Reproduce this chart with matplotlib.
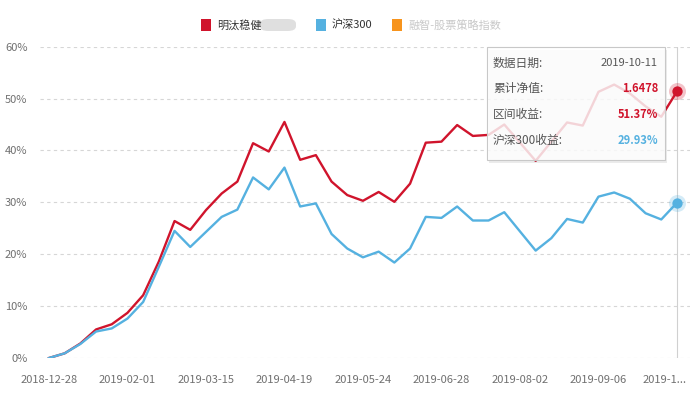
import numpy as np
import matplotlib
matplotlib.use("Agg")
import matplotlib.pyplot as plt
import matplotlib.transforms as mtransforms
from matplotlib.patches import Rectangle, FancyBboxPatch

plt.rcParams['font.family'] = ['Noto Sans CJK SC', 'DejaVu Sans']

# weekly dates (category axis)
dates = ['2018-12-28', '2019-01-04', '2019-01-11', '2019-01-18', '2019-01-25',
         '2019-02-01', '2019-02-15', '2019-02-22', '2019-03-01', '2019-03-08',
         '2019-03-15', '2019-03-22', '2019-03-29', '2019-04-04', '2019-04-12',
         '2019-04-19', '2019-04-26', '2019-04-30', '2019-05-10', '2019-05-17',
         '2019-05-24', '2019-05-31', '2019-06-06', '2019-06-14', '2019-06-21',
         '2019-06-28', '2019-07-05', '2019-07-12', '2019-07-19', '2019-07-26',
         '2019-08-02', '2019-08-09', '2019-08-16', '2019-08-23', '2019-08-30',
         '2019-09-06', '2019-09-12', '2019-09-20', '2019-09-27', '2019-09-30',
         '2019-10-11']

# cumulative return of the fund (%)
fund = [0, 0.9, 2.8, 5.5, 6.5, 8.7, 12.1, 18.6, 26.4, 24.7,
        28.5, 31.7, 34.0, 41.4, 39.8, 45.5, 38.2, 39.1, 34.0, 31.4,
        30.3, 32.0, 30.1, 33.6, 41.5, 41.7, 44.9, 42.8, 43.0, 45.0,
        41.5, 38.0, 41.7, 45.4, 44.8, 51.3, 52.7, 51.0, 48.5, 46.5,
        51.37]

# CSI 300 cumulative return (%)
hs300 = [0, 0.9, 2.7, 5.1, 5.7, 7.6, 10.8, 17.6, 24.5, 21.4,
         24.3, 27.2, 28.6, 34.8, 32.5, 36.7, 29.2, 29.8, 23.9, 21.1,
         19.4, 20.5, 18.4, 21.1, 27.2, 27.0, 29.2, 26.5, 26.5, 28.1,
         24.4, 20.7, 23.1, 26.8, 26.1, 31.1, 31.9, 30.7, 27.9, 26.7,
         29.93]

nav_last = '1.6478'

legend_names = ['明汰稳健', '沪深300', '融智-股票策略指数']

red = '#d0142c'
blue = '#55b1e0'
orange = '#f7941d'
grey_txt = '#707070'

W, H = 692, 393
fig = plt.figure(figsize=(W / 100, H / 100), dpi=100)


def fx(x):
    return x / W


def fy(y):
    return 1 - y / H


ax = fig.add_axes([fx(40), fy(358), fx(690) - fx(40), fy(46.7) - fy(358)])

x = np.arange(len(dates))
ax.plot(x, fund, color=red, lw=1.7, zorder=3)
ax.plot(x, hs300, color=blue, lw=1.7, zorder=3)

# axis pointer on the last point
ax.axvline(x[-1], color='#d0d0d0', lw=0.8, zorder=1)

# highlighted last points
ax.scatter([x[-1]], [fund[-1]], s=150, color=red, alpha=0.25, lw=0, zorder=4)
ax.scatter([x[-1]], [fund[-1]], s=55, color=red, lw=0, zorder=5)
ax.scatter([x[-1]], [hs300[-1]], s=150, color=blue, alpha=0.25, lw=0, zorder=4)
ax.scatter([x[-1]], [hs300[-1]], s=55, color=blue, lw=0, zorder=5)

ax.set_xlim(-0.57, 40.83)
ax.set_ylim(0, 60)
ax.set_yticks(range(0, 61, 10))
ax.set_yticklabels(['{:d}%'.format(v) for v in range(0, 61, 10)])

tick_idx = list(range(0, len(dates), 5))
tick_lab = [dates[i] for i in tick_idx]
tick_lab[-1] = dates[tick_idx[-1]][:6] + '...'
ax.set_xticks(tick_idx)
ax.set_xticklabels(tick_lab)

ax.tick_params(axis='both', length=0, labelsize=8, colors=grey_txt)
ax.tick_params(axis='x', pad=12)
ax.tick_params(axis='y', pad=9)
for s in ax.spines.values():
    s.set_visible(False)
ax.grid(axis='y', color='#d6d6d6', lw=0.8, ls=(0, (3, 3)))
ax.set_axisbelow(True)

# shift the truncated last label left so it stays inside the figure
last = ax.get_xticklabels()[-1]
last.set_transform(last.get_transform() +
                   mtransforms.ScaledTranslation(-12 / 100, 0, fig.dpi_scale_trans))

# legend
leg_items = [(201, legend_names[0], red, '#333333'),
             (316, legend_names[1], blue, '#333333'),
             (392, legend_names[2], orange, '#c8c8c8')]
for lx, name, c, tc in leg_items:
    fig.add_artist(Rectangle((fx(lx), fy(31)), fx(10), fy(19) - fy(31),
                             transform=fig.transFigure, color=c, lw=0))
    fig.text(fx(lx + 16), fy(25), name, fontsize=8, color=tc, va='center', ha='left')
# blurred part of the fund name
fig.add_artist(FancyBboxPatch((fx(260), fy(31)), fx(36), fy(19) - fy(31),
                              boxstyle='round,pad=0,rounding_size=0.012',
                              transform=fig.transFigure, color='#d8d8d8', lw=0,
                              alpha=0.8))

# tooltip
bx0, by0, bx1, by1 = 487, 47, 665, 160
fig.add_artist(Rectangle((fx(bx0 + 2), fy(by1 + 3)), fx(bx1 - bx0), fy(by0) - fy(by1),
                         transform=fig.transFigure, color='#000000', alpha=0.08,
                         lw=0, zorder=5))
fig.add_artist(Rectangle((fx(bx0), fy(by1)), fx(bx1 - bx0), fy(by0) - fy(by1),
                         transform=fig.transFigure, facecolor=(1, 1, 1, 0.82),
                         edgecolor='#c8c8c8', lw=0.8, zorder=6))
rows = [('数据日期:', dates[-1], '#555555', 'normal'),
        ('累计净值:', nav_last, red, 'bold'),
        ('区间收益:', '{:.2f}%'.format(fund[-1]), red, 'bold'),
        ('沪深300收益:', '{:.2f}%'.format(hs300[-1]), blue, 'bold')]
for k, (lab, val, c, w) in enumerate(rows):
    yy = 63 + k * 25.7
    fig.text(fx(493), fy(yy), lab, fontsize=8.5, color='#555555', va='center',
             ha='left', zorder=7)
    fig.text(fx(658), fy(yy), val, fontsize=8, color=c, va='center', ha='right',
             fontweight=w, zorder=7)

fig.savefig('out.png', dpi=100)
